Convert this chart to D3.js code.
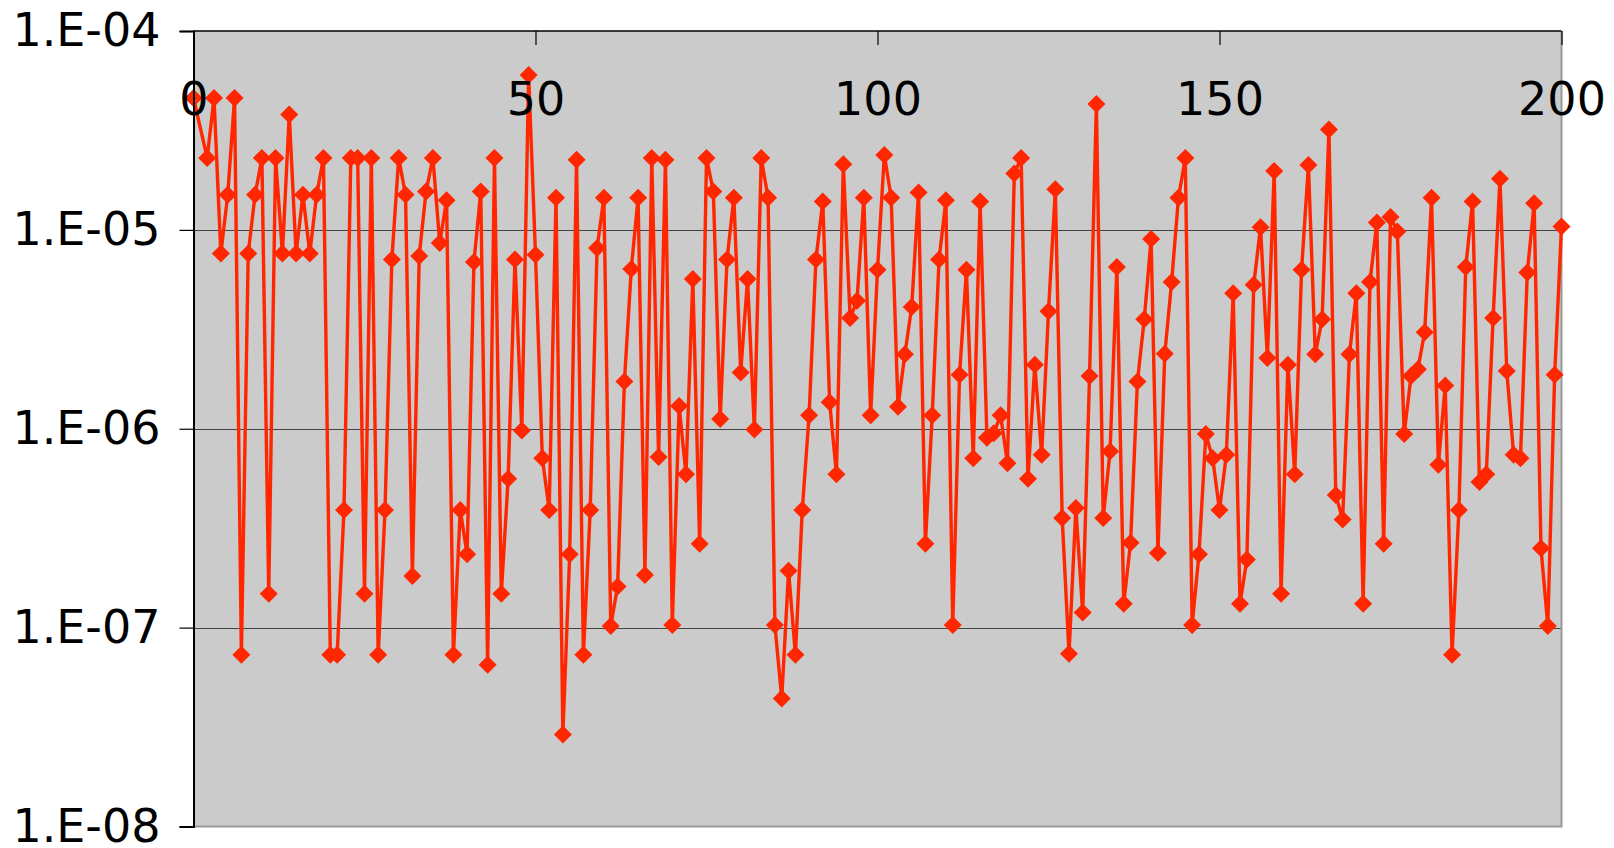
<!DOCTYPE html>
<html><head><meta charset="utf-8">
<script src="https://cdn.jsdelivr.net/npm/d3@7"></script>
<style>body{margin:0;background:#fff;} svg{display:block;}</style>
</head><body>
<svg id="chart" width="1614" height="848"></svg>
<script>
// x categories 0..200 (value at x=1 is missing)
const xCategories = [
  0,1,2,3,4,5,6,7,8,9,10,11,12,13,14,15,16,17,18,19,
  20,21,22,23,24,25,26,27,28,29,30,31,32,33,34,35,36,37,38,39,
  40,41,42,43,44,45,46,47,48,49,50,51,52,53,54,55,56,57,58,59,
  60,61,62,63,64,65,66,67,68,69,70,71,72,73,74,75,76,77,78,79,
  80,81,82,83,84,85,86,87,88,89,90,91,92,93,94,95,96,97,98,99,
  100,101,102,103,104,105,106,107,108,109,110,111,112,113,114,115,116,117,118,119,
  120,121,122,123,124,125,126,127,128,129,130,131,132,133,134,135,136,137,138,139,
  140,141,142,143,144,145,146,147,148,149,150,151,152,153,154,155,156,157,158,159,
  160,161,162,163,164,165,166,167,168,169,170,171,172,173,174,175,176,177,178,179,
  180,181,182,183,184,185,186,187,188,189,190,191,192,193,194,195,196,197,198,199,
  200
];
const seriesValues = [
  4.6e-5, null, 2.3e-5, 4.6e-5, 7.6e-6, 1.5e-5, 4.6e-5, 7.3e-8, 7.6e-6, 1.5e-5,
  2.3e-5, 1.48e-7, 2.3e-5, 7.6e-6, 3.8e-5, 7.6e-6, 1.5e-5, 7.6e-6, 1.5e-5, 2.3e-5,
  7.3e-8, 7.3e-8, 3.9e-7, 2.3e-5, 2.3e-5, 1.48e-7, 2.3e-5, 7.3e-8, 3.9e-7, 7.1e-6,
  2.3e-5, 1.5e-5, 1.82e-7, 7.4e-6, 1.56e-5, 2.3e-5, 8.6e-6, 1.41e-5, 7.3e-8, 3.9e-7,
  2.34e-7, 6.9e-6, 1.56e-5, 6.5e-8, 2.3e-5, 1.48e-7, 5.6e-7, 7.1e-6, 9.8e-7, 6.0e-5,
  7.5e-6, 7.1e-7, 3.9e-7, 1.45e-5, 2.9e-8, 2.34e-7, 2.25e-5, 7.3e-8, 3.9e-7, 8.1e-6,
  1.45e-5, 1.02e-7, 1.61e-7, 1.73e-6, 6.35e-6, 1.45e-5, 1.84e-7, 2.3e-5, 7.2e-7, 2.25e-5,
  1.03e-7, 1.3e-6, 5.9e-7, 5.66e-6, 2.64e-7, 2.3e-5, 1.56e-5, 1.12e-6, 7.1e-6, 1.45e-5,
  1.92e-6, 5.66e-6, 9.9e-7, 2.3e-5, 1.45e-5, 1.03e-7, 4.4e-8, 1.93e-7, 7.3e-8, 3.9e-7,
  1.17e-6, 7.1e-6, 1.39e-5, 1.36e-6, 5.9e-7, 2.14e-5, 3.6e-6, 4.4e-6, 1.45e-5, 1.17e-6,
  6.3e-6, 2.38e-5, 1.45e-5, 1.29e-6, 2.37e-6, 4.1e-6, 1.54e-5, 2.64e-7, 1.17e-6, 7.1e-6,
  1.41e-5, 1.03e-7, 1.87e-6, 6.3e-6, 7.1e-7, 1.39e-5, 9.0e-7, 9.5e-7, 1.17e-6, 6.7e-7,
  1.92e-5, 2.3e-5, 5.6e-7, 2.1e-6, 7.4e-7, 3.9e-6, 1.6e-5, 3.56e-7, 7.4e-8, 4.0e-7,
  1.19e-7, 1.84e-6, 4.3e-5, 3.56e-7, 7.7e-7, 6.5e-6, 1.32e-7, 2.67e-7, 1.73e-6, 3.55e-6,
  9.0e-6, 2.37e-7, 2.38e-6, 5.47e-6, 1.45e-5, 2.3e-5, 1.03e-7, 2.34e-7, 9.4e-7, 7.1e-7,
  3.9e-7, 7.4e-7, 4.8e-6, 1.32e-7, 2.2e-7, 5.3e-6, 1.03e-5, 2.27e-6, 1.98e-5, 1.48e-7,
  2.1e-6, 5.9e-7, 6.3e-6, 2.12e-5, 2.37e-6, 3.55e-6, 3.2e-5, 4.65e-7, 3.5e-7, 2.37e-6,
  4.8e-6, 1.32e-7, 5.47e-6, 1.09e-5, 2.64e-7, 1.16e-5, 9.8e-6, 9.4e-7, 1.84e-6, 1.99e-6,
  3.06e-6, 1.45e-5, 6.6e-7, 1.65e-6, 7.3e-8, 3.9e-7, 6.5e-6, 1.39e-5, 5.4e-7, 5.9e-7,
  3.6e-6, 1.81e-5, 1.95e-6, 7.4e-7, 7.1e-7, 6.1e-6, 1.36e-5, 2.51e-7, 1.02e-7, 1.87e-6,
  1.04e-5
];
const xTickValues = [0, 50, 100, 150, 200];
const xTickLabels = ["0", "50", "100", "150", "200"];
const yTickValues = [1e-4, 1e-5, 1e-6, 1e-7, 1e-8];
const yTickLabels = ["1.E-04", "1.E-05", "1.E-06", "1.E-07", "1.E-08"];

const plot = {left: 193.5, right: 1561.5, top: 31, bottom: 826.5};
const FONT = "'DejaVu Sans', Verdana, sans-serif";
const svg = d3.select("#chart");

const x = d3.scaleLinear().domain([0, 200]).range([plot.left, plot.right]);
const y = d3.scaleLog().domain([1e-8, 1e-4]).range([plot.bottom, plot.top]);

// plot background
svg.append("rect")
  .attr("x", plot.left).attr("y", plot.top)
  .attr("width", plot.right - plot.left).attr("height", plot.bottom - plot.top)
  .attr("fill", "#cbcbcb");

// gridlines
svg.append("g").selectAll("line")
  .data(yTickValues.slice(1, -1))
  .join("line")
  .attr("x1", plot.left).attr("x2", plot.right)
  .attr("y1", d => Math.round(y(d)) + 0.5).attr("y2", d => Math.round(y(d)) + 0.5)
  .attr("stroke", "#444").attr("stroke-width", 1);

// right & bottom border
svg.append("path")
  .attr("d", `M${plot.right},${plot.top}V${plot.bottom}H${plot.left}`)
  .attr("fill", "none").attr("stroke", "#999").attr("stroke-width", 2);

// series
const pts = xCategories.map((c, i) => ({x: c, v: seriesValues[i]})).filter(d => d.v != null);
const line = d3.line().x(d => x(d.x)).y(d => y(d.v));
svg.append("path")
  .datum(pts)
  .attr("d", line)
  .attr("fill", "none")
  .attr("stroke", "#ff2600")
  .attr("stroke-width", 3.4)
  .attr("stroke-linejoin", "round");

const r = 9;
svg.append("g").selectAll("path")
  .data(pts)
  .join("path")
  .attr("transform", d => `translate(${x(d.x)},${y(d.v)})`)
  .attr("d", `M0,${-r}L${r},0L0,${r}L${-r},0Z`)
  .attr("fill", "#ff2600");

// y axis
const yAxis = d3.axisLeft(y)
  .tickValues(yTickValues)
  .tickFormat((d, i) => yTickLabels[i])
  .tickSize(14).tickPadding(19);
const gy = svg.append("g").attr("transform", `translate(${plot.left},0)`).call(yAxis);
gy.select(".domain").attr("stroke", "#000").attr("stroke-width", 2);
gy.selectAll(".tick line").attr("stroke", "#000").attr("stroke-width", 1.2);
gy.selectAll("text").attr("font-family", FONT).attr("font-size", 46).attr("fill", "#000");

// x axis (at top, ticks pointing into plot)
const xAxis = d3.axisBottom(x)
  .tickValues(xTickValues)
  .tickFormat((d, i) => xTickLabels[i])
  .tickSize(14).tickPadding(37);
const gx = svg.append("g").attr("transform", `translate(0,${plot.top})`).call(xAxis);
gx.select(".domain").attr("stroke", "#000").attr("stroke-width", 1.5).attr("d", `M${plot.left},0H${plot.right}`);
gx.selectAll(".tick line").attr("stroke", "#000").attr("stroke-width", 1.2);
gx.selectAll("text").attr("font-family", FONT).attr("font-size", 46).attr("fill", "#000");
</script>
</body></html>
